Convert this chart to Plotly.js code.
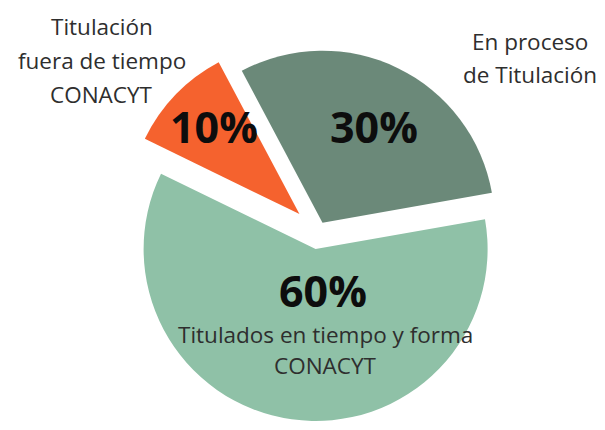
<!DOCTYPE html>
<html>
<head>
<meta charset="utf-8">
<script src="https://cdn.plot.ly/plotly-3.0.1.min.js"></script>
<style>html,body{margin:0;padding:0;background:#fff;}#chart{width:605px;height:430px;}</style>
</head>
<body>
<div id="chart"></div>
<script>
// Data
const categories = ["Titulados en tiempo y forma CONACYT", "Titulación fuera de tiempo CONACYT", "En proceso de Titulación"];
const values = [60, 10, 30];
const percentLabels = ["60%", "10%", "30%"];
const labelLines = [
  ["Titulados en tiempo y forma", "CONACYT"],
  ["Titulación", "fuera de tiempo", "CONACYT"],
  ["En proceso", "de Titulación"]
];
const colors = ["#8FC1A7", "#F5622E", "#6B8979"];

// Layout positions (pixels)
const W = 605, H = 430;
const pctPos = [[323, 290], [214, 126], [374, 126]];
const labelPos = [[325, 334, 31], [102, 26, 34], [530, 41, 34]]; // x, first line y, spacing

const ann = [];
for (let i = 0; i < categories.length; i++) {
  ann.push({
    x: pctPos[i][0] / W, y: 1 - pctPos[i][1] / H, xref: 'paper', yref: 'paper',
    text: '<b>' + percentLabels[i] + '</b>', showarrow: false,
    xanchor: 'center', yanchor: 'middle',
    font: {family: 'Open Sans', size: 43, color: '#0d0d0d', weight: 800}
  });
  labelLines[i].forEach((ln, j) => {
    ann.push({
      x: labelPos[i][0] / W, y: 1 - (labelPos[i][1] + j * labelPos[i][2]) / H,
      xref: 'paper', yref: 'paper', text: ln, showarrow: false,
      xanchor: 'center', yanchor: 'middle',
      font: {family: 'Open Sans', size: 22.5, color: '#2e2e2e'}
    });
  });
}

const trace = {
  type: 'pie',
  labels: categories,
  values: values,
  sort: false,
  direction: 'clockwise',
  rotation: 80,
  pull: [0.1, 0.15, 0.06],
  marker: {colors: colors, line: {width: 0}},
  textinfo: 'none',
  hoverinfo: 'label+percent',
  domain: {x: [120.2 / W, 515.8 / W], y: [1 - 429.8 / H, 1 - 34.2 / H]}
};

Plotly.newPlot('chart', [trace], {
  width: W, height: H,
  margin: {l: 0, r: 0, t: 0, b: 0},
  paper_bgcolor: '#ffffff',
  showlegend: false,
  annotations: ann
}, {staticPlot: true});
</script>
</body>
</html>
